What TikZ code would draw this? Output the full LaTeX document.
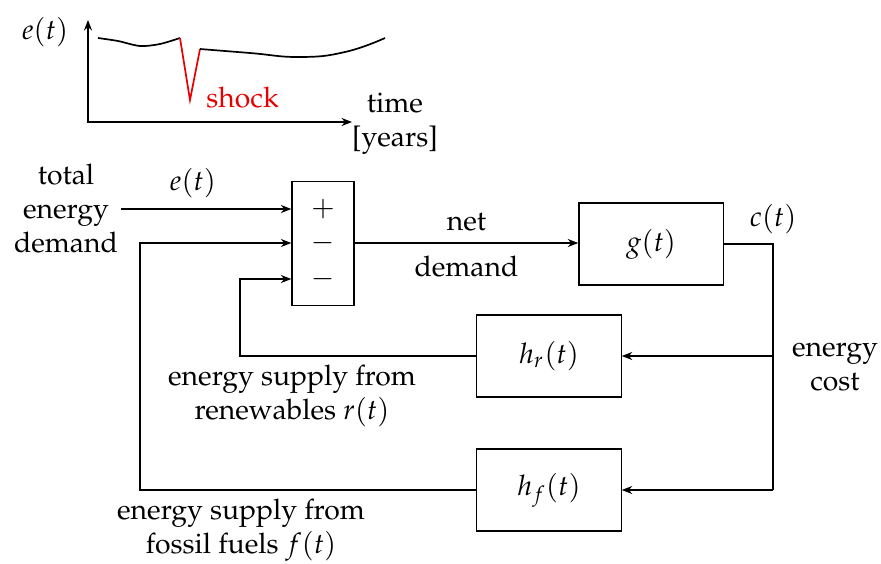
\documentclass[tikz,border=0pt]{standalone}
\usepackage[T1]{fontenc}
\usepackage{mathpazo}
\usepackage{tikz}
\usetikzlibrary{arrows.meta,calc}
\definecolor{shockRed}{RGB}{230,0,0}

\begin{document}
\begin{tikzpicture}[x=0.0124cm,y=-0.0124cm,line width=0.45pt,
    >={Stealth[length=1.3mm,width=1mm]},
    block/.style={draw,rectangle,minimum width=1.79cm,minimum height=1.02cm,inner sep=0pt},
    lbl/.style={align=center,inner sep=1pt}]
  \useasboundingbox (0,0) rectangle (881,563);

  % Zeitverlauf e(t) mit Schock
  \draw[semithick,<->] (88,20) -- (88,122) -- (352,122);
  \node[lbl] (ylab) at (45,32) {$e(t)$};
  \node[lbl] (xlab) at (395,124) {time\\{[years]}};
  \draw[semithick] plot[smooth] coordinates {(98,38) (118,41) (140,46) (160,44) (180,38)};
  \draw[semithick,shockRed] (180,38) -- (190,100) -- (200,49);
  \draw[semithick] plot[smooth,tension=0.8] coordinates {(200,49) (250,53) (300,57) (345,52) (385,38)};
  \node[shockRed,anchor=west,inner sep=1pt] (shock) at (203,98) {shock};

  % Summierer
  \node[draw,rectangle,minimum width=0.77cm,minimum height=1.53cm] (sum) at (323,243.5) {};
  \node (plus) at (323,209) {$+$};
  \node (minA) at (323,243) {$-$};
  \node (minB) at (323,279) {$-$};

  % Bloecke
  \node[block] (g)  at (651,244) {$g(t)$};
  \node[block] (hr) at (549,356) {$h_r(t)$};
  \node[block] (hf) at (549,490) {$h_f(t)$};

  % Eingang
  \node[lbl] (demand) at (66,209) {total\\energy\\demand};
  \draw[->] (demand.east) -- (sum.west |- plus)
    node[pos=0.42,above=0.5pt] (elab) {$e(t)$};

  % Netto-Nachfrage
  \draw[->] (sum.east |- minA) -- (g.west |- minA)
    node[midway,above=0.5pt] (netlab) {net}
    node[midway,below=1pt] (dlab) {demand};

  % Energiekosten
  \coordinate (cA) at (773,244);
  \coordinate (cB) at (773,490);
  \node[lbl] (clab) at (773,219) {$c(t)$};
  \draw (g.east) -- (cA) -- (cB);
  \draw[->] (cA |- hr) -- (hr.east);
  \draw[->] (cB) -- (hf.east);
  \node[lbl] (cost) at (835,367) {energy\\cost};

  % Rueckfuehrungen
  \coordinate (rturn) at (240,356);
  \coordinate (fturn) at (140,490);
  \draw[->] (hr.west) -- (rturn) |- (sum.west |- minB);
  \draw[->] (hf.west) -- (fturn) |- (sum.west |- minA);
  \node[lbl] (rlab) at (292,396) {energy supply from\\renewables $r(t)$};
  \node[lbl] (flab) at (241,530) {energy supply from\\fossil fuels $f(t)$};
\end{tikzpicture}
\end{document}
